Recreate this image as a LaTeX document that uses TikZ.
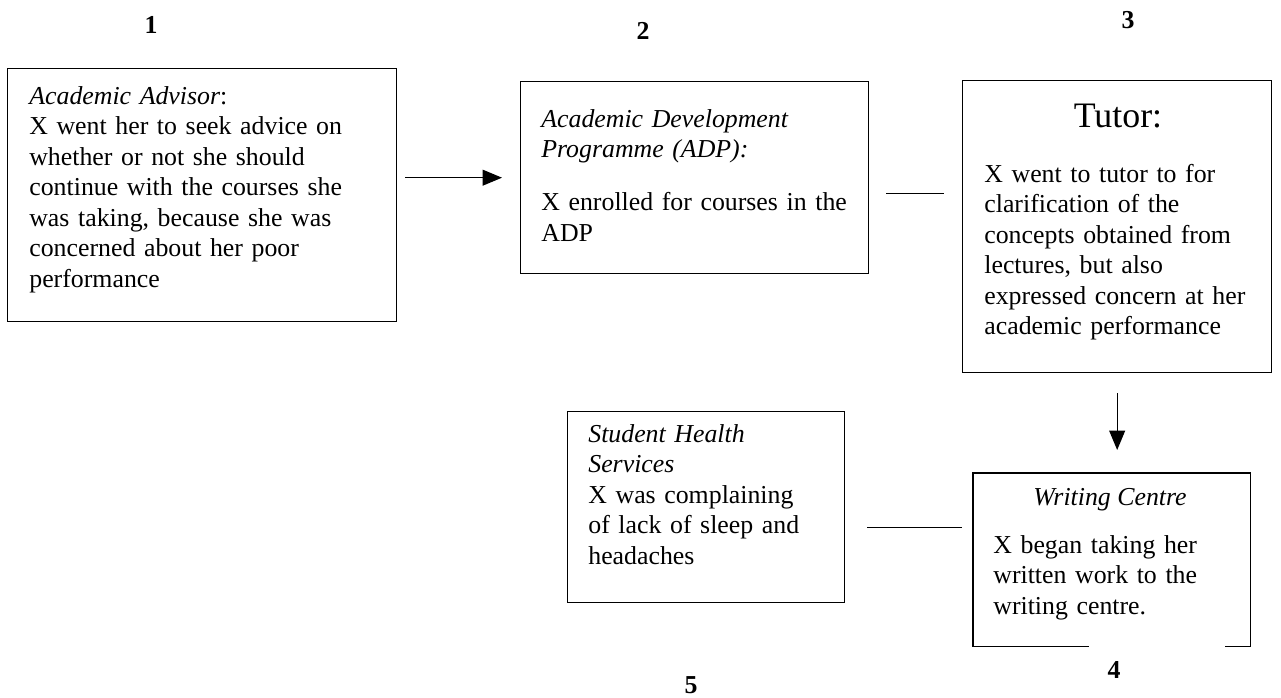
\documentclass[tikz,border=0pt]{standalone}
\usepackage{fontspec}
\setmainfont{Liberation Serif}
\usetikzlibrary{arrows.meta}

\begin{document}
\begin{tikzpicture}[x=0.02cm, y=-0.02cm,
      >={Triangle[length=11pt, width=9pt]},
      box/.style={draw, line width=0.8pt, inner sep=0, anchor=north west},
      txt/.style={anchor=base west, inner sep=0, align=left,
                  font=\fontsize{14.7}{17.4}\selectfont},
      num/.style={inner sep=0, font=\fontsize{14.7}{17.4}\selectfont\bfseries},
      flow/.style={->, line width=0.7pt},
      link/.style={line width=0.7pt}]
    \useasboundingbox (0,0) rectangle (1281,697);

    \node[box, minimum width=7.78cm, minimum height=5.06cm] (adv) at (7,68) {};
    \node[box, minimum width=6.96cm, minimum height=3.84cm] (adp) at (520,81) {};
    \node[box, minimum width=6.18cm, minimum height=5.84cm] (tut) at (962,80) {};
    \node[box, draw=none, minimum width=5.52cm, minimum height=3.44cm] (wrc) at (973,473) {};
    \node[box, minimum width=5.54cm, minimum height=3.82cm] (shs) at (567,411) {};
    \draw[line width=0.8pt] ([xshift=2.32cm]wrc.south west) -- (wrc.south west)
      -- (wrc.north west) -- (wrc.north east) -- (wrc.south east) -- ++(-25,0);

    \node[txt, text width=7.4cm] (advT) at (29,104) {\textit{Academic Advisor}:\\
      X went her to seek advice on\\ whether or not she should\\
      continue with the courses she\\ was taking, because she was\\
      concerned about her poor\\ performance};
    \node[txt, text width=6.5cm] (adpT) at (541,127) {{\itshape Academic Development\\
      Programme (ADP):}\\[0.45cm]
      X enrolled for courses in the\\ ADP};
    \node[inner sep=0, anchor=base, font=\fontsize{20.4}{24}\selectfont] (tutH) at (1118,127) {Tutor:};
    \node[txt, text width=5.9cm] (tutT) at (984,182) {X went to tutor to for\\
      clarification of the\\ concepts obtained from\\ lectures, but also\\
      expressed concern at her\\ academic performance};
    \node[inner sep=0, anchor=base, font=\fontsize{14.7}{17.4}\selectfont\itshape] (wrcH) at (1110,505) {Writing Centre};
    \node[txt, text width=5cm] (wrcT) at (993,553) {X began taking her\\
      written work to the\\ writing centre.};
    \node[txt, text width=5cm] (shsT) at (588,442) {{\itshape Student Health\\ Services}\\
      X was complaining\\ of lack of sleep and\\ headaches};

    \node[num] (n1) at (151,25) {1};
    \node[num] (n2) at (643,31) {2};
    \node[num] (n3) at (1128,20) {3};
    \node[num] (n4) at (1114,670) {4};
    \node[num] (n5) at (691,685) {5};

    \draw[flow, shorten <=0.16cm, shorten >=0.36cm] (adv.east |- adp.west) -- (adp.west);
    \coordinate (m23) at ([yshift=-0.32cm]adp.east);
    \draw[link, shorten <=0.34cm, shorten >=0.36cm] (m23) -- (m23 -| tut.west);
    \draw[flow, shorten <=0.4cm, shorten >=0.46cm] (tut.south) -- (tut.south |- wrc.north);
    \coordinate (m54) at ([yshift=-0.41cm]shs.east);
    \draw[link, shorten <=0.44cm, shorten >=0.22cm] (m54) -- (m54 -| wrc.west);
\end{tikzpicture}
\end{document}
